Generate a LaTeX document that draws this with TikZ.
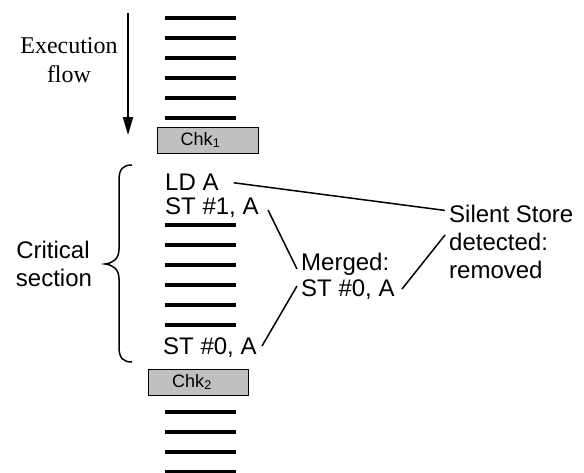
\documentclass[tikz,border=0pt]{standalone}
\usepackage{fontspec}
\setmainfont{Liberation Serif}
\setsansfont{Liberation Sans}
\usetikzlibrary{arrows.meta}
\definecolor{chkgray}{HTML}{C0C0C0}
\tikzset{
  bar/.style={line width=4pt},
  sans/.style={font=\sffamily\fontsize{24}{27}\selectfont, inner sep=0pt, anchor=base west},
  serif/.style={font=\rmfamily\fontsize{24}{28}\selectfont, inner sep=0pt, anchor=base},
  chkbox/.style={draw=black, line width=0.8pt, fill=chkgray, inner sep=0pt,
    font=\sffamily\fontsize{18}{20}\selectfont},
  conn/.style={line width=1.5pt},
}
\begin{document}
\begin{tikzpicture}[x=1pt,y=-1pt]
\useasboundingbox (0,0) rectangle (584,472);
% bars
\foreach \y in {18,38,58,78,98,118,225,245,265,285,305,325,412,432,452,472}
  \draw[bar] (165,\y) -- (236,\y);
% execution flow
\node[serif] (ex1) at (69,53) {Execution};
\node[serif] (ex2) at (69,82) {flow};
\coordinate (arrS) at (128,13);
\coordinate (arrE) at (128,135);
\draw[line width=2pt,-{Triangle[length=18pt,width=10pt]}] (arrS) -- (arrE);
% checkpoints
\node[chkbox, minimum width=101pt, minimum height=26pt] (chk1) at (207.5,140) {Chk\textsubscript{1}\hspace*{14pt}};
\node[chkbox, minimum width=100pt, minimum height=26pt] (chk2) at (198,382) {Chk\textsubscript{2}\hspace*{12pt}};
% instructions
\node[sans] (lda) at (165,190) {LD A};
\node[sans] (st1) at (165,214) {ST \#1, A};
\node[sans] (st0) at (163,354) {ST \#0, A};
\node[sans] (mg1) at (301,270) {Merged:};
\node[sans] (mg2) at (301,296) {ST \#0, A};
\node[sans] (ss1) at (449,222) {Silent Store};
\node[sans] (ss2) at (449,250) {detected:};
\node[sans] (ss3) at (449,278) {removed};
% critical section
\node[sans, anchor=base] (cr1) at (53,258) {Critical};
\node[sans, anchor=base] (cr2) at (54,286) {section};
\draw[line width=1.5pt] (132,165) .. controls (123,165) and (119,169) .. (119,180)
  -- (119,249) .. controls (119,259) and (113,263) .. (105,264)
  .. controls (113,265) and (119,269) .. (119,279)
  -- (119,347) .. controls (119,358) and (123,362) .. (132,362);
% connectors
\coordinate (c1a) at ([xshift=15pt,yshift=-1pt]lda.east);
\coordinate (c1b) at ([xshift=-4pt,yshift=3pt]ss1.west);
\draw[conn] (c1a) -- (c1b);
\coordinate (c2a) at (268,210);
\coordinate (c2b) at (297,269);
\draw[conn] (c2a) -- (c2b);
\coordinate (c3a) at (297,286);
\coordinate (c3b) at (262,346);
\draw[conn] (c3a) -- (c3b);
\coordinate (c4a) at (402,289);
\coordinate (c4b) at (445,235);
\draw[conn] (c4a) -- (c4b);
\end{tikzpicture}
\end{document}
